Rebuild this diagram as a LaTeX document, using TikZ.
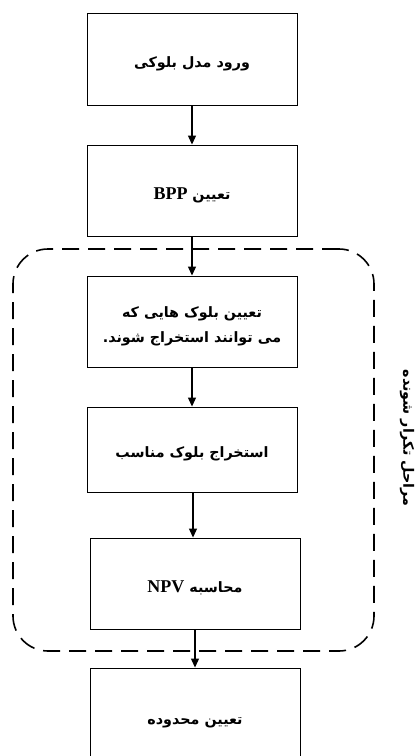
\documentclass[tikz,border=0pt]{standalone}
\usepackage{fontspec}
\setmainfont{Liberation Serif}
\newfontfamily\arabicfont[Script=Arabic]{DejaVu Sans}
\TeXXeTstate=1
\usetikzlibrary{arrows.meta}
\newcommand\lat[1]{\beginL{\rmfamily\bfseries\fontsize{18}{18}\selectfont #1}\endL}
\newcommand\rtlline[1]{\raisebox{-4.5pt}[\height][\depth]{\beginR #1\endR}}
\tikzset{
  stepbox/.style={draw, line width=0.9pt, minimum width=210pt, inner sep=0pt, align=center,
    font=\arabicfont\bfseries\fontsize{14.3}{25}\selectfont},
  flow/.style={line width=1.2pt, -{Triangle[length=9pt,width=8pt]}},
  loopframe/.style={draw, dash pattern=on 17pt off 9pt, line width=1.6pt, rounded corners=35pt,
    inner sep=0pt, minimum width=361pt, minimum height=402pt},
  sidelabel/.style={font=\arabicfont\bfseries\fontsize{14.3}{16}\selectfont, rotate=-90, inner sep=0pt}
}
\begin{document}
\begin{tikzpicture}[x=1pt,y=-1pt]
\useasboundingbox (0,0) rectangle (419,756);
\node[loopframe] (frame) at (193.5,450) {};
\node[stepbox, minimum height=92pt] (b1) at (192,59) {\rtlline{ورود مدل بلوکی}};
\node[stepbox, minimum height=91pt] (b2) at (192,190.5) {\rtlline{تعیین \lat{BPP}}};
\node[stepbox, minimum height=91pt] (b3) at (192,321.5) {\rtlline{تعیین بلوک هایی که}\\\rtlline{می توانند استخراج شوند.}};
\node[stepbox, minimum height=85pt] (b4) at (192,449.5) {\rtlline{استخراج بلوک مناسب}};
\node[stepbox, minimum height=91pt] (b5) at (195,583.5) {\rtlline{محاسبه \lat{NPV}}};
\node[stepbox, minimum height=100pt] (b6) at (195,718) {\rtlline{تعیین محدوده}};
\node[sidelabel] (lab) at (407,438) {\beginR مراحل تکرار شونده\endR};
\draw[flow] (b1) -- (b2);
\draw[flow] (b2) -- (b3);
\draw[flow] (b3) -- (b4);
\draw[flow] ([xshift=1pt]b4.south) -- ([xshift=1pt]b4.south |- b5.north);
\draw[flow] (b5) -- (b6);
\end{tikzpicture}
\end{document}
